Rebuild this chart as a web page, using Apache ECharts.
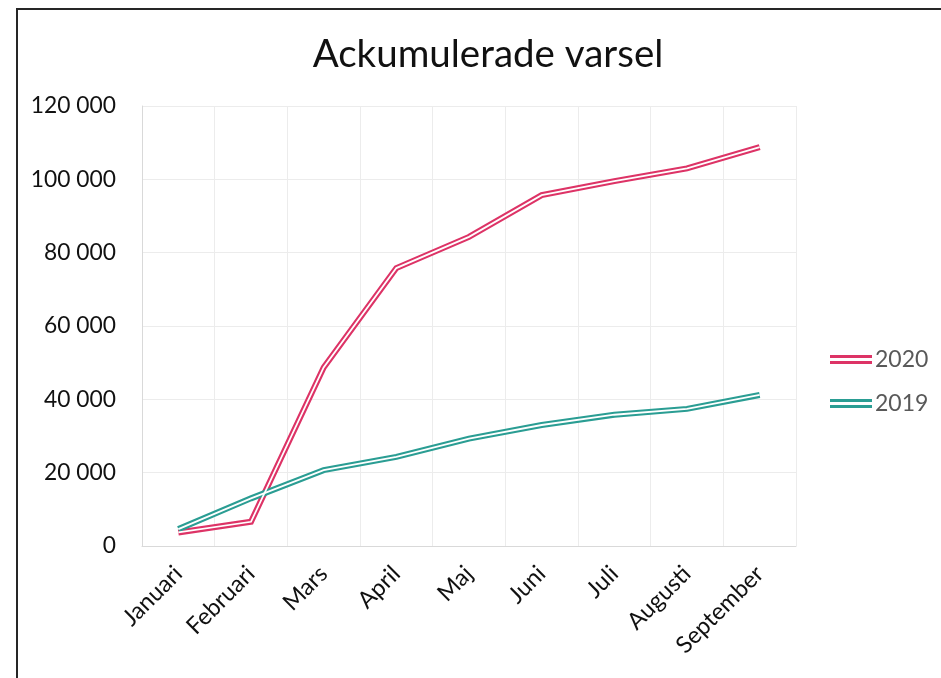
<!DOCTYPE html>
<html>
<head>
<meta charset="utf-8">
<script src="https://cdn.jsdelivr.net/npm/echarts@6/dist/echarts.min.js"></script>
<style>
  html, body { margin: 0; padding: 0; background: #fff; }
  #wrap { position: relative; width: 941px; height: 678px; overflow: hidden; }
  #frame { position: absolute; left: 16px; top: 8px; width: 1000px; height: 800px;
           border-left: 2px solid #262626; border-top: 2px solid #262626; }
  #main { position: absolute; left: 0; top: 0; width: 941px; height: 678px; }
</style>
</head>
<body>
<div id="wrap">
  <div id="frame"></div>
  <div id="main"></div>
</div>
<script>
// månader
var months = ['Januari', 'Februari', 'Mars', 'April', 'Maj', 'Juni', 'Juli', 'Augusti', 'September'];
// ackumulerade varsel per år
var v2020 = [3700, 6600, 48700, 75800, 84300, 95700, 99500, 103000, 108800];
var v2019 = [4600, 13000, 20700, 24300, 29300, 33000, 35800, 37400, 41200];
var yTicks = [0, 20000, 40000, 60000, 80000, 100000, 120000];

var pink = '#dd3366';
var teal = '#2a9d93';
var font = 'Lato, "Open Sans", sans-serif';

// dubbel linje: färgad tjock linje + vit tunn linje ovanpå
function doubleLine(name, data, color) {
  return [
    {
      name: name, type: 'line', data: data, symbol: 'none', z: 2,
      lineStyle: { color: color, width: 6, cap: 'butt', join: 'miter' },
      itemStyle: { color: color }
    },
    {
      name: name + '_inner', type: 'line', data: data, symbol: 'none', z: 3,
      lineStyle: { color: '#fff', width: 1.8, cap: 'butt', join: 'miter' },
      silent: true
    }
  ];
}

var iconPath = 'path://M0,0 L42,0 L42,3 L0,3 Z M0,6 L42,6 L42,9 L0,9 Z';

var option = {
  animation: false,
  textStyle: { fontFamily: font },
  title: {
    text: 'Ackumulerade varsel',
    left: 483,
    top: 30,
    textAlign: 'center',
    textStyle: { fontSize: 38.5, fontWeight: 'normal', color: '#111', fontFamily: font }
  },
  legend: {
    orient: 'vertical',
    left: 825,
    top: 343,
    itemGap: 21,
    itemWidth: 42,
    itemHeight: 9,
    textStyle: { fontSize: 23, color: '#595959', fontFamily: font, padding: [0, 0, 0, -2] },
    data: [
      { name: '2020', icon: iconPath, itemStyle: { color: pink } },
      { name: '2019', icon: iconPath, itemStyle: { color: teal } }
    ]
  },
  grid: { left: 142, right: 145, top: 106, bottom: 132, containLabel: false },
  xAxis: {
    type: 'category',
    data: months,
    boundaryGap: true,
    axisLine: { show: true, lineStyle: { color: '#d9d9d9', width: 1 } },
    axisTick: { show: false },
    splitLine: { show: true, lineStyle: { color: '#ececec', width: 1 } },
    axisLabel: { rotate: 45, fontSize: 23.5, color: '#111', margin: 24, interval: 0, fontFamily: font }
  },
  yAxis: {
    type: 'value',
    min: yTicks[0],
    max: yTicks[yTicks.length - 1],
    interval: yTicks[1] - yTicks[0],
    axisLine: { show: true, lineStyle: { color: '#d9d9d9', width: 1 } },
    axisTick: { show: false },
    splitLine: { show: true, lineStyle: { color: '#ececec', width: 1 } },
    axisLabel: {
      fontSize: 22.8, color: '#111', margin: 26, fontFamily: font,
      formatter: function (v) {
        return String(v).replace(/\B(?=(\d{3})+(?!\d))/g, ' ');
      }
    }
  },
  series: [].concat(doubleLine('2020', v2020, pink), doubleLine('2019', v2019, teal))
};

var chart = echarts.init(document.getElementById('main'));
chart.setOption(option);
</script>
</body>
</html>
